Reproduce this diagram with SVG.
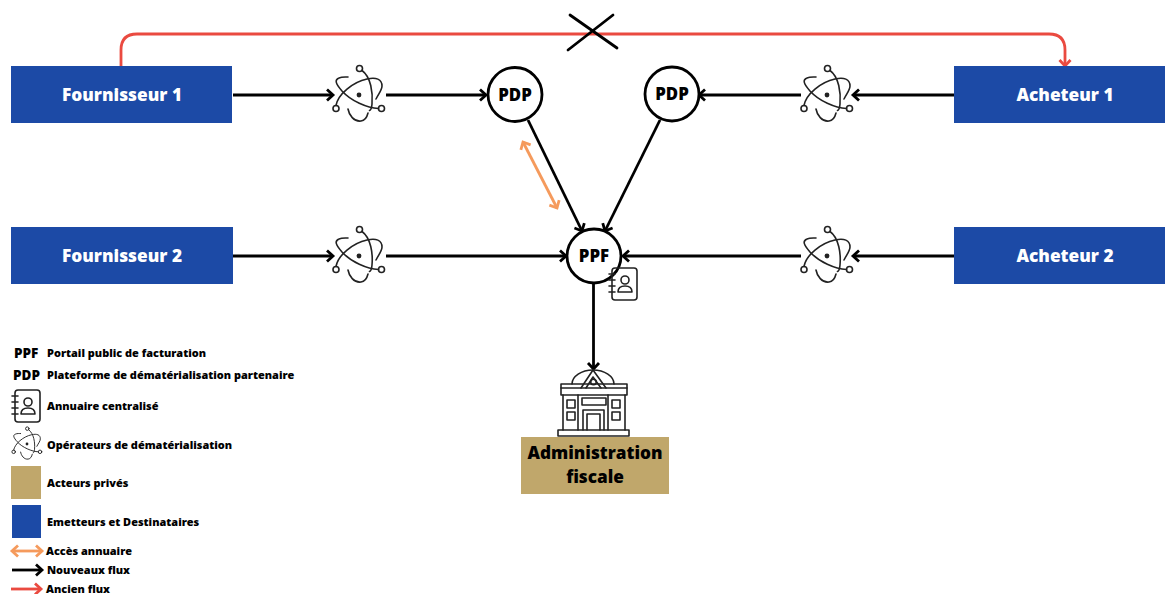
<svg xmlns="http://www.w3.org/2000/svg" width="1165" height="594" viewBox="0 0 1165 594">
<style>
text{font-family:"Open Sans","Noto Sans",sans-serif;font-weight:800;fill:#000}
.box{font-size:17.300px;fill:#fff;text-anchor:middle}
.c{font-size:16.800px;text-anchor:middle}
.l{font-size:10.950px}
.k{fill:none;stroke:#000;stroke-width:2.800}
.r{fill:none;stroke:#ea4a40;stroke-width:2.800}
.o{fill:none;stroke:#f59a5c;stroke-width:2.800}
.i{fill:none;stroke:#222;stroke-width:1.600;stroke-linecap:round;stroke-linejoin:round}
.n{fill:#fff;stroke:#000;stroke-width:2.800}
</style>
<defs>
<marker id="ak" markerUnits="userSpaceOnUse" markerWidth="16" markerHeight="16" refX="11" refY="8" orient="auto"><path d="M5 2.500L11 8L5 13.500" fill="none" stroke="#000" stroke-width="2.800"/></marker>
<marker id="ar" markerUnits="userSpaceOnUse" markerWidth="16" markerHeight="16" refX="11" refY="8" orient="auto"><path d="M5 2.500L11 8L5 13.500" fill="none" stroke="#ea4a40" stroke-width="2.800"/></marker>
<marker id="ao" markerUnits="userSpaceOnUse" markerWidth="16" markerHeight="16" refX="11" refY="8" orient="auto-start-reverse"><path d="M5 2.500L11 8L5 13.500" fill="none" stroke="#f59a5c" stroke-width="2.800"/></marker>
<symbol id="atom" overflow="visible" viewBox="-30 -30 60 60" width="60" height="60">
<g class="i">
<circle cx="0.500" cy="-26.500" r="3"/><circle cx="-23" cy="13.500" r="3"/><circle cx="22.500" cy="13.500" r="3"/>
<circle cx="0" cy="0" r="2.400" fill="#222" stroke="none"/>
<path d="M3 -24.500C12 -18 14 -2 13 9C12.700 13 12 15 10.500 15.500"/>
<path d="M-23 10.500C-21 -1 -6 -13 8 -16C17 -18 23 -16 23 -9C23 -5 20 -2 17 4"/>
<path d="M19.500 13.500C8 13 -8 6 -17 -4C-23 -11 -25 -15 -20 -17C-17 -18.500 -13 -18 -11 -18"/>
<path d="M-11 14C-10 20 -5 27 2 26C6 25.500 8 22 9 18"/>
</g>
</symbol>
<symbol id="book" overflow="visible" viewBox="0 0 28 34" width="28" height="34">
<g class="i">
<rect x="3" y="1" width="25" height="32" rx="3"/>
<path d="M0 7H6M0 13H6M0 19H6M0 25H6"/>
<circle cx="16" cy="13" r="4"/>
<path d="M9 25C9 20 12 19 16 19C20 19 23 20 23 25Z"/>
</g>
</symbol>
</defs>

<g id="connectors">
<path class="r" marker-end="url(#ar)" d="M121 66V50Q121 34 137 34H1049Q1065 34 1065 50V66"/>
<path class="k" d="M570 15L617 48M613 15L568 50" stroke-linecap="round"/>
<path class="k" marker-end="url(#ak)" d="M233 95H333"/>
<path class="k" marker-end="url(#ak)" d="M386 95H486"/>
<path class="k" marker-end="url(#ak)" d="M954 95H853"/>
<path class="k" marker-end="url(#ak)" d="M801 95H699"/>
<path class="k" marker-end="url(#ak)" d="M233 256H333"/>
<path class="k" marker-end="url(#ak)" d="M386 256H566"/>
<path class="k" marker-end="url(#ak)" d="M954 256H853"/>
<path class="k" marker-end="url(#ak)" d="M801 256H623"/>
<path class="k" marker-end="url(#ak)" d="M528 120L582 231"/>
<path class="k" marker-end="url(#ak)" d="M660 120L605 231"/>
<path class="k" marker-end="url(#ak)" d="M593.500 284V369"/>
<path class="o" marker-start="url(#ao)" marker-end="url(#ao)" d="M523 142L557 208"/>
</g>

<g id="fournisseur1"><rect x="11" y="66" width="221" height="57" fill="#1c4aa6"/><text class="box" x="122" y="101">Fournisseur 1</text></g>
<g id="fournisseur2"><rect x="11" y="227" width="222" height="57" fill="#1c4aa6"/><text class="box" x="122" y="262">Fournisseur 2</text></g>
<g id="acheteur1"><rect x="954" y="66" width="211" height="57" fill="#1c4aa6"/><text class="box" x="1065" y="101">Acheteur 1</text></g>
<g id="acheteur2"><rect x="954" y="227" width="211" height="57" fill="#1c4aa6"/><text class="box" x="1065" y="262">Acheteur 2</text></g>

<g id="op1"><use href="#atom" x="329" y="65"/></g>
<g id="op2"><use href="#atom" x="797" y="65"/></g>
<g id="op3"><use href="#atom" x="329" y="226"/></g>
<g id="op4"><use href="#atom" x="797" y="226"/></g>

<g id="pdp1"><circle class="n" cx="515" cy="94.500" r="27"/><text class="c" x="515" y="100.500">PDP</text></g>
<g id="pdp2"><circle class="n" cx="672" cy="94" r="27"/><text class="c" x="672" y="100">PDP</text></g>
<g id="ppf"><circle class="n" cx="594" cy="256" r="27"/><text class="c" x="594" y="262">PPF</text></g>
<g id="annuaire"><use href="#book" x="609" y="267"/></g>

<g id="administration">
<g class="i" fill="#fff">
<path d="M572 384A21 14 0 0 1 614 384"/>
<path d="M581 388L593 370L606 388M586 388L593 377L601 388"/>
<circle cx="593.500" cy="382" r="2.800"/>
<rect x="561" y="384" width="66" height="11"/>
<path d="M561 388H627"/>
<path d="M563 395V430M625 395V430"/>
<rect x="567" y="400" width="8" height="8"/><rect x="567" y="412" width="8" height="8"/>
<rect x="612" y="400" width="8" height="8"/><rect x="612" y="412" width="8" height="8"/>
<path d="M578 395V430M608 395V430"/>
<rect x="582" y="398" width="24" height="7"/>
<path d="M583 430V410H604V430M587 430V414H600V430"/>
<rect x="558" y="430" width="71" height="6"/>
</g>
<rect x="521" y="437" width="148" height="57" fill="#c0a76b"/>
<text x="595" y="459" font-size="17.200" text-anchor="middle">Administration</text>
<text x="595" y="483" font-size="17.200" text-anchor="middle">fiscale</text>
</g>

<g id="legende">
<text x="14" y="358" font-size="13.500">PPF</text><text class="l" x="47" y="356.500">Portail public de facturation</text>
<text x="13" y="380" font-size="13.500">PDP</text><text class="l" x="47" y="378.500">Plateforme de dématérialisation partenaire</text>
<use href="#book" x="12" y="389"/><text class="l" x="47" y="409.500">Annuaire centralisé</text>
<use href="#atom" transform="translate(27 444) scale(.58) translate(-30 -30)"/><text class="l" x="47" y="448.500">Opérateurs de dématérialisation</text>
<rect x="11" y="466" width="30" height="33" fill="#c0a76b"/><text class="l" x="47" y="487">Acteurs privés</text>
<rect x="12" y="505" width="29" height="33" fill="#1c4aa6"/><text class="l" x="47" y="526">Emetteurs et Destinataires</text>
<path class="o" marker-start="url(#ao)" marker-end="url(#ao)" d="M12 551H42"/><text class="l" x="46" y="555">Accès annuaire</text>
<path class="k" marker-end="url(#ak)" d="M12 570H42"/><text class="l" x="47" y="574">Nouveaux flux</text>
<path class="r" marker-end="url(#ar)" d="M11 589H41"/><text class="l" x="46" y="593">Ancien flux</text>
</g>
</svg>
